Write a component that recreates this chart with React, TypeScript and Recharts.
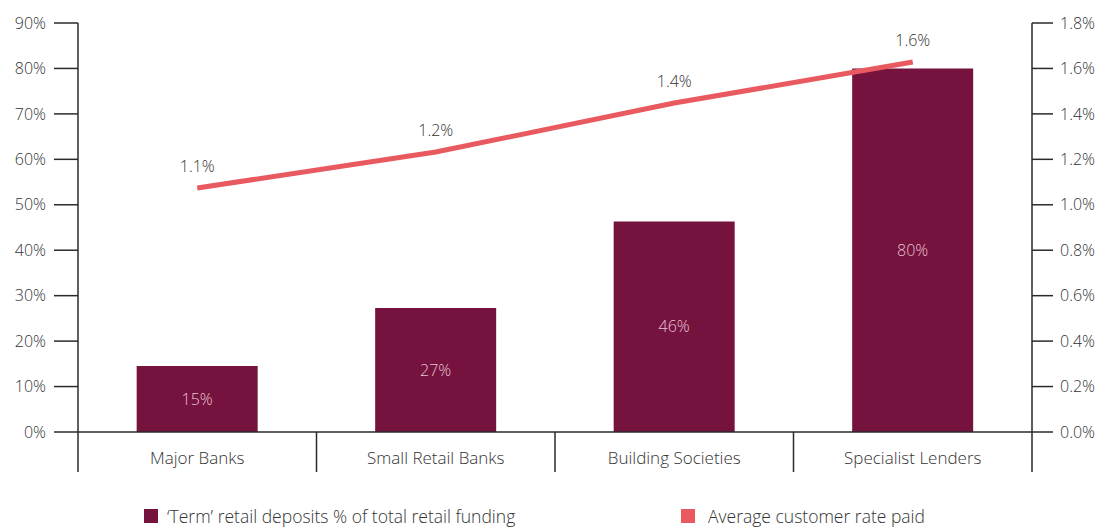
import { Bar, ComposedChart, LabelList, Line, XAxis, YAxis } from 'recharts'

const categories = ['Major Banks', 'Small Retail Banks', 'Building Societies', 'Specialist Lenders']
const termShare = [14.5, 27.3, 46.3, 80.0]
const avgRate = [1.074, 1.232, 1.448, 1.628]
const leftTicks = [0, 10, 20, 30, 40, 50, 60, 70, 80, 90]
const rightTicks = [0, 0.2, 0.4, 0.6, 0.8, 1.0, 1.2, 1.4, 1.6, 1.8]
const seriesNames = ["\u2018Term\u2019 retail deposits % of total retail funding", 'Average customer rate paid']

const data = categories.map((name, i) => ({ name, term: termShare[i], rate: avgRate[i] }))

const BAR = '#76123e'
const LINE = '#e85a5f'
const AXIS = '#2a2a2a'
const TEXT = '#333333'
const FONT = '"Open Sans", Lato, sans-serif'
const WEIGHT = 300

function CategoryTick(props: any) {
  const { x, y, payload, index, width } = props
  const half = payload?.offset ? payload.offset : width / categories.length / 2
  return (
    <g>
      <line x1={x - half} x2={x - half} y1={y} y2={y + 40} stroke={AXIS} strokeWidth={1.5} />
      {index === categories.length - 1 && (
        <line x1={x + half} x2={x + half} y1={y} y2={y + 40} stroke={AXIS} strokeWidth={1.5} />
      )}
      <text
        x={x}
        y={y + 27}
        textAnchor="middle"
        dominantBaseline="middle"
        fill={TEXT}
        fontSize={17}
        fontFamily={FONT}
        fontWeight={WEIGHT}
      >
        {payload.value}
      </text>
    </g>
  )
}

export default function App() {
  return (
    <div style={{ position: 'absolute', left: 0, top: 0, width: 1105, height: 528, background: '#fff', overflow: 'hidden' }}>
      <ComposedChart width={1105} height={528} data={data} margin={{ top: 23, right: 0, left: 0, bottom: 56 }} barCategoryGap="24.6%">
        <XAxis
          dataKey="name"
          height={40}
          tickLine={false}
          tickSize={0}
          tickMargin={0}
          axisLine={{ stroke: AXIS, strokeWidth: 1.5 }}
          tick={<CategoryTick />}
          interval={0}
        />
        <YAxis
          yAxisId="left"
          width={78}
          domain={[0, 90]}
          ticks={leftTicks}
          interval={0}
          tickSize={24}
          tickMargin={8}
          tickFormatter={(v: number) => `${v}%`}
          axisLine={{ stroke: AXIS, strokeWidth: 1.5 }}
          tickLine={{ stroke: AXIS, strokeWidth: 1.5 }}
          tick={{ fill: TEXT, fontSize: 16, fontFamily: FONT, fontWeight: WEIGHT }}
        />
        <YAxis
          yAxisId="right"
          orientation="right"
          width={73}
          domain={[0, 1.8]}
          ticks={rightTicks}
          interval={0}
          tickSize={21}
          tickMargin={7}
          tickFormatter={(v: number) => `${v.toFixed(1)}%`}
          axisLine={{ stroke: AXIS, strokeWidth: 1.5 }}
          tickLine={{ stroke: AXIS, strokeWidth: 1.5 }}
          tick={{ fill: TEXT, fontSize: 16, fontFamily: FONT, fontWeight: WEIGHT }}
        />
        <Bar yAxisId="left" dataKey="term" name={seriesNames[0]} fill={BAR} isAnimationActive={false}>
          <LabelList
            dataKey="term"
            position="center"
            formatter={(v: any) => `${Math.round(Number(v))}%`}
            fill="#e6c4d3"
            fontSize={16}
            fontFamily={FONT}
            fontWeight={WEIGHT}
          />
        </Bar>
        <Line
          yAxisId="right"
          type="linear"
          dataKey="rate"
          name={seriesNames[1]}
          stroke={LINE}
          strokeWidth={5}
          dot={false}
          activeDot={false}
          isAnimationActive={false}
        >
          <LabelList
            dataKey="rate"
            position="top"
            offset={16}
            formatter={(v: any) => `${Number(v).toFixed(1)}%`}
            fill={TEXT}
            fontSize={16}
            fontFamily={FONT}
            fontWeight={WEIGHT}
          />
        </Line>
      </ComposedChart>

      {/* legend */}
      <div
        style={{
          position: 'absolute',
          left: 144,
          top: 505,
          display: 'flex',
          fontFamily: FONT,
          fontWeight: WEIGHT,
          fontSize: 17.5,
          lineHeight: '22px',
          color: TEXT,
          whiteSpace: 'nowrap',
        }}
      >
        <div style={{ display: 'flex', alignItems: 'center', width: 537 }}>
          <span style={{ width: 14, height: 14, background: BAR, marginRight: 9, display: 'inline-block' }} />
          {seriesNames[0]}
        </div>
        <div style={{ display: 'flex', alignItems: 'center' }}>
          <span style={{ width: 14, height: 14, background: LINE, marginRight: 13, display: 'inline-block' }} />
          {seriesNames[1]}
        </div>
      </div>
    </div>
  )
}
